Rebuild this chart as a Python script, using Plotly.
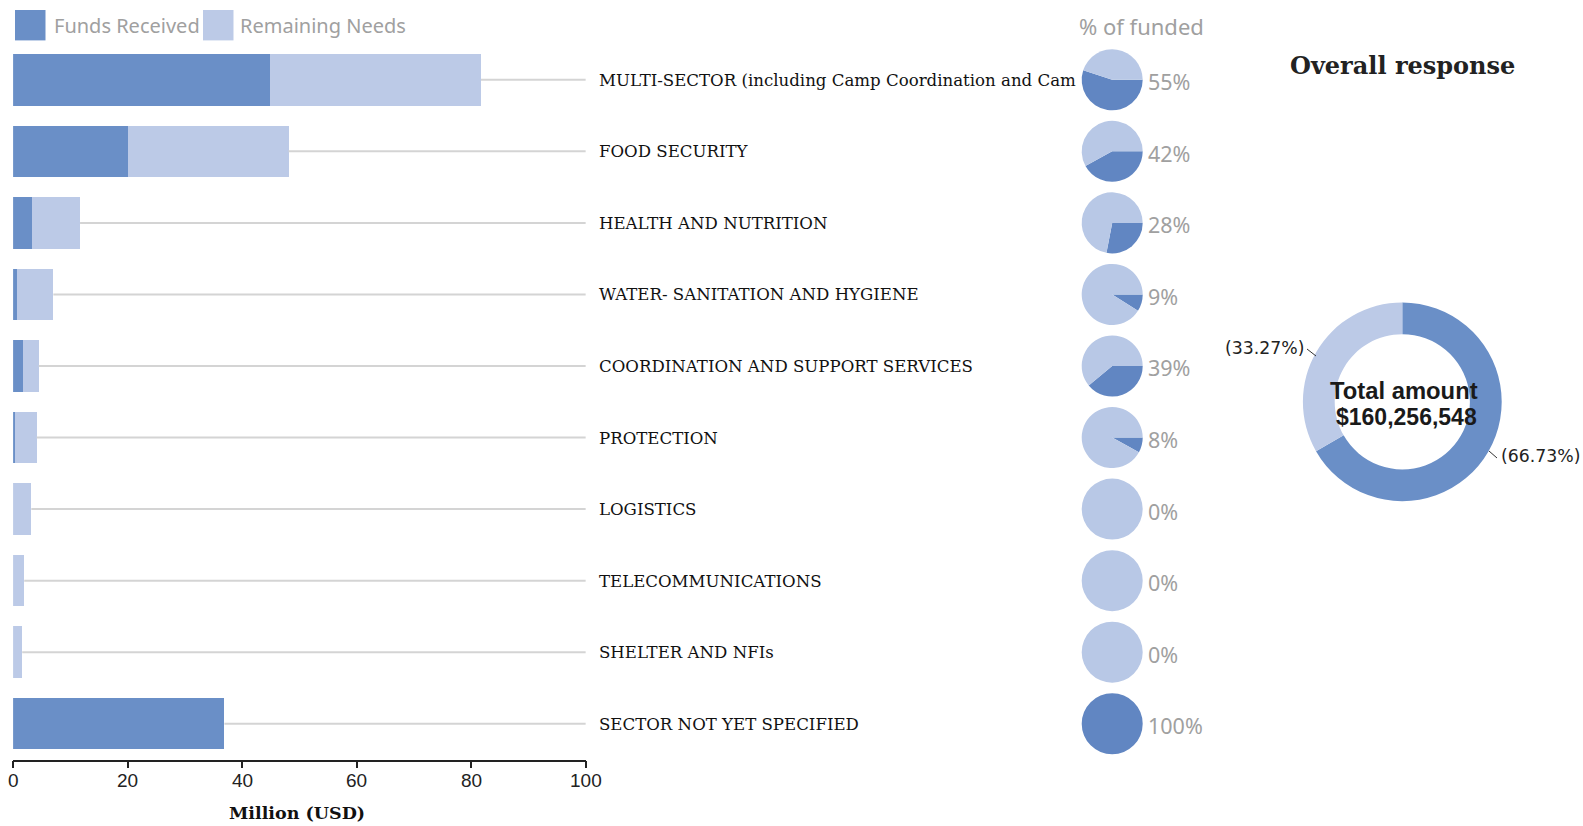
import plotly.graph_objects as go

# ---------------- data ----------------
categories = [
    "MULTI-SECTOR (including Camp Coordination and Cam",
    "FOOD SECURITY",
    "HEALTH AND NUTRITION",
    "WATER- SANITATION AND HYGIENE",
    "COORDINATION AND SUPPORT SERVICES",
    "PROTECTION",
    "LOGISTICS",
    "TELECOMMUNICATIONS",
    "SHELTER AND NFIs",
    "SECTOR NOT YET SPECIFIED",
]
funds_received = [44.8, 20.1, 3.25, 0.63, 1.74, 0.33, 0.0, 0.0, 0.0, 36.9]
remaining_needs = [36.9, 28.0, 8.44, 6.40, 2.73, 3.79, 3.18, 1.94, 1.59, 0.0]
pct_funded = [55, 42, 28, 9, 39, 8, 0, 0, 0, 100]
overall_labels = ["Funded", "Unmet"]
overall_values = [66.73, 33.27]
total_amount = "$160,256,548"
x_ticks = [0, 20, 40, 60, 80, 100]

# ---------------- styling ----------------
W, H = 1583, 826
DARK = "#6a8fc7"
LIGHT = "#bccae7"
PIE_DARK = "#6186c2"
PIE_LIGHT = "#b8c8e6"
GRAY_TXT = "#a0a0a0"

def px(x):
    return x / W

def py(y):
    return 1 - y / H

plot_left, plot_right = 13.1, 585.8
plot_top, plot_bottom = 44.0, 759.5
n = len(categories)
band = (plot_bottom - plot_top) / n

fig = go.Figure()

fig.add_trace(go.Bar(
    y=categories, x=funds_received, orientation="h", name="Funds Received",
    marker=dict(color=DARK, line=dict(width=0)), hoverinfo="x+y",
))
fig.add_trace(go.Bar(
    y=categories, x=remaining_needs, orientation="h", name="Remaining Needs",
    marker=dict(color=LIGHT, line=dict(width=0)), hoverinfo="x+y",
))

# leader lines from bar end to axis end
lx, ly = [], []
for c, f, r in zip(categories, funds_received, remaining_needs):
    lx += [f + r, x_ticks[-1], None]
    ly += [c, c, None]
fig.add_trace(go.Scatter(x=lx, y=ly, mode="lines",
                         line=dict(color="#d4d4d4", width=2),
                         hoverinfo="skip", showlegend=False))

# small pies for % funded
pie_cx = 1112.2
pie_r = 30.5
annotations = []
for i, (c, p) in enumerate(zip(categories, pct_funded)):
    cy = plot_top + (i + 0.5) * band
    fig.add_trace(go.Pie(
        values=[p, 100 - p], labels=["Funded", "Remaining"],
        marker=dict(colors=[PIE_DARK, PIE_LIGHT], line=dict(width=0)),
        sort=False, direction="clockwise", rotation=90,
        textinfo="none", hoverinfo="label+percent", showlegend=False,
        domain=dict(x=[px(pie_cx - pie_r), px(pie_cx + pie_r)],
                    y=[py(cy + pie_r), py(cy - pie_r)]),
    ))
    annotations.append(dict(
        x=px(1146), y=c, xref="paper", yref="y", xanchor="left", yanchor="middle",
        yshift=-2, text=f"{p}%", showarrow=False,
        font=dict(family="Noto Sans", size=21.5, color=GRAY_TXT),
    ))
    annotations.append(dict(
        x=px(597), y=c, xref="paper", yref="y", xanchor="left", yanchor="middle",
        yshift=-0.5, text=c, showarrow=False,
        font=dict(family="DejaVu Serif", size=16.6, color="#111111"),
    ))

# x tick labels (as text positioned on the x axis)
for t in x_ticks:
    annotations.append(dict(
        x=t, y=py(780.5), xref="x", yref="paper", xanchor="center", yanchor="middle",
        text=str(t), showarrow=False,
        font=dict(family="Liberation Sans", size=19, color="#222222"),
    ))

# overall donut
dcx, dcy, dr = 1402.3, 401.8, 99.4
fig.add_trace(go.Pie(
    values=overall_values, labels=overall_labels,
    marker=dict(colors=[DARK, LIGHT], line=dict(width=0)),
    hole=0.68, sort=False, direction="clockwise", rotation=0,
    textinfo="none", hoverinfo="label+percent", showlegend=False,
    domain=dict(x=[px(dcx - dr), px(dcx + dr)], y=[py(dcy + dr), py(dcy - dr)]),
))

def txt(x, y, text, family, size, color, xanchor="center"):
    return dict(x=px(x), y=py(y), xref="paper", yref="paper", xanchor=xanchor,
                yanchor="middle", text=text, showarrow=False,
                font=dict(family=family, size=size, color=color))

annotations += [
    txt(1404, 390.5, "<b>Total amount</b>", "Liberation Sans", 23.8, "#1a1a1a"),
    txt(1406, 416.5, f"<b>{total_amount}</b>", "Liberation Sans", 23, "#1a1a1a"),
    txt(1306, 348.3, f"({overall_values[1]:.2f}%)", "DejaVu Sans", 17.3, "#222222", "right"),
    txt(1499, 455.5, f"({overall_values[0]:.2f}%)", "DejaVu Sans", 17.3, "#222222", "left"),
    txt(1402, 65.5, "<b>Overall response</b>", "DejaVu Serif", 24, "#222222"),
    txt(1141, 26.3, "% of funded", "Noto Sans", 22, GRAY_TXT),
    txt(297, 813, "<b>Million (USD)</b>", "DejaVu Serif", 17.5, "#111111"),
    # legend texts
    txt(51.5, 25.2, "Funds Received", "Noto Sans", 20, GRAY_TXT, "left"),
    txt(237.5, 25.2, "Remaining Needs", "Noto Sans", 20, GRAY_TXT, "left"),
]

shapes = [
    # legend swatches
    dict(type="rect", xref="paper", yref="paper", x0=px(15), x1=px(45.5), y0=py(40.4), y1=py(10),
         fillcolor=DARK, line=dict(width=0)),
    dict(type="rect", xref="paper", yref="paper", x0=px(203), x1=px(233.5), y0=py(40.4), y1=py(10),
         fillcolor=LIGHT, line=dict(width=0)),
    # donut leader ticks
    dict(type="line", xref="paper", yref="paper", x0=px(1307), y0=py(349), x1=px(1316), y1=py(356),
         line=dict(color="#333333", width=1)),
    dict(type="line", xref="paper", yref="paper", x0=px(1489), y0=py(451), x1=px(1497), y1=py(458),
         line=dict(color="#333333", width=1)),
]

fig.update_layout(
    width=W, height=H,
    margin=dict(l=0, r=0, t=0, b=0, pad=0, autoexpand=False),
    paper_bgcolor="white", plot_bgcolor="white",
    barmode="stack", bargap=0.28, showlegend=False,
    xaxis=dict(domain=[px(plot_left), px(plot_right)], range=[0, 100],
               tickvals=x_ticks, showticklabels=False, ticks="outside", ticklen=7,
               tickcolor="#222", tickwidth=1.5, showline=True, linecolor="#222",
               linewidth=1.5, showgrid=False, zeroline=False),
    yaxis=dict(domain=[py(plot_bottom), py(plot_top)], autorange="reversed",
               showticklabels=False, showgrid=False, zeroline=False, showline=False,
               ticks=""),
    annotations=annotations, shapes=shapes,
)

fig.write_html("out.html", config={"displayModeBar": False},
               post_script="document.body.style.margin='0';document.body.style.overflow='hidden';")
